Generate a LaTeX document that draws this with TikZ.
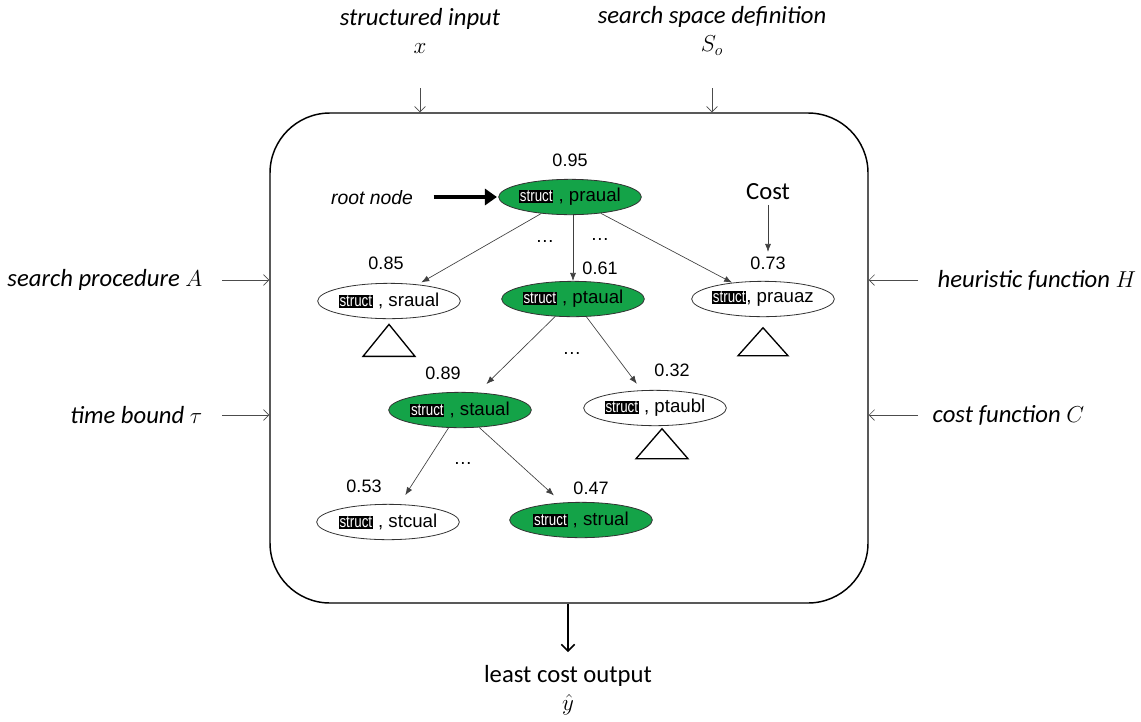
\documentclass[tikz,border=0pt]{standalone}
\usepackage{fontspec}
\usepackage{graphicx}
\setmainfont{Carlito}
\newfontfamily\arialf{Liberation Sans}
\usetikzlibrary{shapes.geometric,arrows.meta}
\definecolor{nodegreen}{RGB}{20,163,72}
% inverted "struct" tag shown inside every search node
\newcommand{\structtag}{{\setlength{\fboxsep}{0.6pt}\colorbox{black}{\textcolor{white}{\fontsize{12.5}{13}\selectfont\scalebox{0.8}[1]{struct}}}}}

\begin{document}
\begin{tikzpicture}[x=0.75pt,y=-0.75pt,
  tnode/.style={ellipse, draw=black!80, line width=0.6pt, minimum width=107pt, minimum height=26.5pt,
                inner xsep=-4pt, inner ysep=0pt, font=\arialf\fontsize{14}{16}\selectfont},
  gnode/.style={tnode, fill=nodegreen},
  wnode/.style={tnode, fill=white},
  score/.style={font=\arialf\fontsize{13.5}{16}\selectfont},
  lab/.style={font=\itshape\fontsize{18.5}{22}\selectfont, align=center},
  edge/.style={draw=black!75, line width=0.5pt, -{Latex[length=6pt,width=4.5pt]}},
  io/.style={draw=black!70, line width=0.5pt, -{Straight Barb[length=4pt,width=8pt]}},
  subtree/.style={draw=black, line width=1pt},
  dotsnode/.style={font=\arialf\fontsize{14}{16}\selectfont}
]
\useasboundingbox (0,0) rectangle (1141,721);

% search box
\node[draw=black, line width=1.1pt, rounded corners=45pt, minimum width=448.5pt, minimum height=367.5pt,
      inner sep=0pt] (box) at (569,358) {};

% inputs from above
\node[lab] (xlab) at (420,31) {structured input\\[-1pt]$x$};
\node[lab] (slab) at (712,31) {search space definition\\[-1pt]$S_o$};
\coordinate (xtail) at (420,88);
\coordinate (stail) at (712,88);
\draw[io] (xtail) -- (xtail |- box.north);
\draw[io] (stail) -- (stail |- box.north);

% inputs from the left
\node[lab, anchor=east] (alab) at (207,280) {search procedure $A$};
\node[lab, anchor=east] (tlab) at (207,415) {time bound $\tau$};
\coordinate (atail) at (222,280);
\coordinate (ttail) at (222,415);
\draw[io] (atail) -- (atail -| box.west);
\draw[io] (ttail) -- (ttail -| box.west);

% inputs from the right
\node[lab, anchor=west] (hlab) at (933,280) {heuristic function $H$};
\node[lab, anchor=west] (clab) at (928,415) {cost function $C$};
\coordinate (htail) at (918,280);
\coordinate (ctail) at (918,415);
\draw[io] (htail) -- (htail -| box.east);
\draw[io] (ctail) -- (ctail -| box.east);

% output
\node[font=\fontsize{18.5}{22}\selectfont, align=center] (out) at (568,690) {least cost output\\[-1pt]$\hat{y}$};
\coordinate (otip) at (568,652);
\draw[draw=black, line width=1.1pt, -{Straight Barb[length=5pt,width=10pt]}] (box.south -| otip) -- (otip);

% search tree
\node[gnode] (root)   at (570,197) {\structtag\ , praual};
\node[wnode] (sraual) at (389,301) {\structtag\ , sraual};
\node[gnode] (ptaual) at (573,299) {\structtag\ , ptaual};
\node[wnode] (prauaz) at (763,299) {\structtag, prauaz};
\node[gnode] (staual) at (460,410) {\structtag\ , staual};
\node[wnode] (ptaubl) at (655,408) {\structtag\ , ptaubl};
\node[wnode] (stcual) at (388,522) {\structtag\ , stcual};
\node[gnode] (strual) at (581,520) {\structtag\ , strual};

% heuristic scores
\node[score] (s095) at (570,160) {0.95};
\node[score] (s085) at (386,263) {0.85};
\node[score] (s061) at (600,268) {0.61};
\node[score] (s073) at (768,263) {0.73};
\node[score] (s089) at (443,373) {0.89};
\node[score] (s032) at (672,370) {0.32};
\node[score] (s053) at (364,486) {0.53};
\node[score] (s047) at (591,488) {0.47};

% expansions
\draw[edge, shorten >=3pt] (root) -- (sraual);
\draw[edge] (root.south -| ptaual) -- (ptaual.north);
\draw[edge] (root) -- (prauaz);
\draw[edge, shorten >=9pt] (ptaual) -- (staual);
\draw[edge, shorten >=6pt] (ptaual) -- (ptaubl);
\draw[edge, shorten >=8pt] (staual) -- (stcual);
\draw[edge, shorten >=8pt] (staual) -- (strual);

% elided siblings
\node[dotsnode] (d1) at (545,241) {\dots};
\node[dotsnode] (d2) at (600,239) {\dots};
\node[dotsnode] (d3) at (572,353) {\dots};
\node[dotsnode] (d4) at (463,463) {\dots};

% cost annotation
\node[font=\fontsize{18.5}{22}\selectfont] (cost) at (768,192) {Cost};
\draw[edge] (cost) -- (s073);

% root marker
\node[font=\arialf\itshape\fontsize{14.5}{16}\selectfont] (rootlab) at (372,198) {root node};
\draw[line width=3.6pt, -{Triangle[length=9pt,width=12pt]}, shorten <=12pt, shorten >=1pt] (rootlab.east |- root.west) -- (root.west);

% unexpanded subtrees
\draw[subtree] ([yshift=-4pt]sraual.south) -- ++(-26,32) -- ++(52,0) -- cycle;
\draw[subtree] ([yshift=-8pt]prauaz.south) -- ++(-25,28) -- ++(50,0) -- cycle;
\draw[subtree] ([yshift=-2pt]ptaubl.south -| 662,0) -- ++(-26,30) -- ++(52,0) -- cycle;
\end{tikzpicture}
\end{document}
